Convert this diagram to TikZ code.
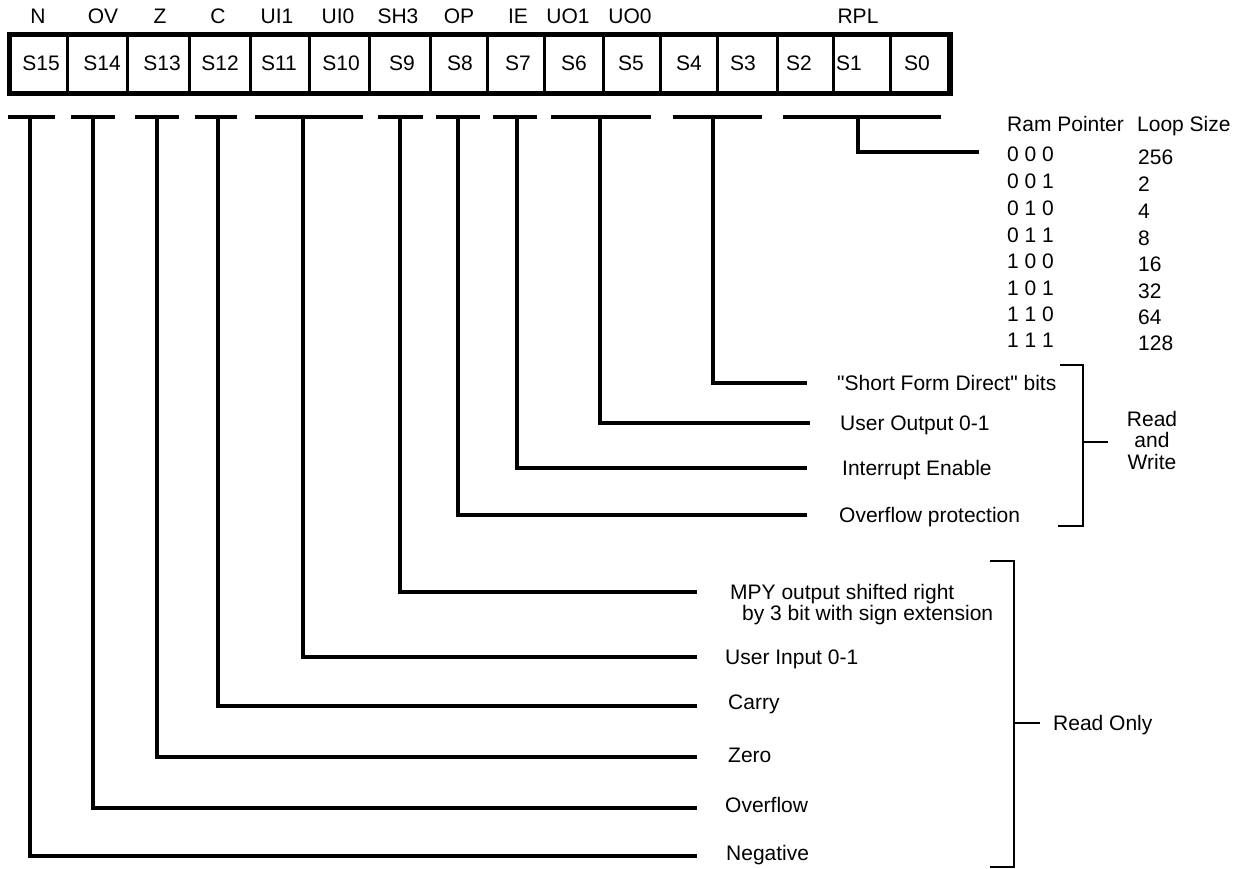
\documentclass[tikz,border=0pt]{standalone}
\usepackage{fontspec}
\setmainfont{Liberation Sans}[Ligatures=TeXOff]
\begin{document}
\begin{tikzpicture}[x=1pt,y=-1pt,
  txt/.style={inner sep=0pt,font=\fontsize{21}{21.5}\selectfont},
  lbl/.style={txt,anchor=base west},
  bar/.style={line width=4.5pt},
  lead/.style={line width=3.6pt},
  brk/.style={line width=1.8pt}]
\useasboundingbox (0,0) rectangle (1244,869);
% register
\draw[line width=3pt] \foreach \d in {67,127,189,250,309,369,430,487,544,603,660,717,777,833,890} {(\d,34) -- (\d,94)};
\draw[line width=5.5pt] (9.5,34.5) rectangle (950,93.5);
% cell texts
\foreach \c/\t [count=\i] in {41/S15,102/S14,162/S13,220/S12,279/S11,341/S10,402/S9,460/S8,518/S7,574/S6,631/S5,689/S4,743/S3,799/S2,849/S1,917/S0}
  \node[txt] (cell\i) at (\c,63) {\t};
% field names
\foreach \c/\t [count=\i] in {38/N,103/OV,160/Z,218/C,277/UI1,338/UI0,398/SH3,459/OP,518/IE,568/UO1,630/UO0,858/RPL}
  \node[txt] (fld\i) at (\c,16) {\t};
% bars under fields
\foreach \a/\b [count=\i] in {8/55,71/115,135/179,195/237,255/363,378/423,436/480,493/537,551/651,673/762,783/941}
  \draw[bar] (\a,117) -- (\b,117);
% stem coordinates
\foreach \x/\n in {30/N,93/OV,157/Z,218/C,303/UI,400/SH,458/OP,517/IE,600/UO,713/SF,858/RP}
  \coordinate (s\n) at (\x,117);
% labels
\node[lbl] (tRP) at (1007,132) {Ram Pointer};
\node[lbl] (tLS) at (1137,132) {Loop Size};
\foreach \y/\c/\s [count=\i] in {154.5/0 0 0/256,181/0 0 1/2,208/0 1 0/4,235/0 1 1/8,261/1 0 0/16,288/1 0 1/32,314/1 1 0/64,340/1 1 1/128}{
  \node[lbl] (code\i) at (1007,\y+7.5) {\c};
  \node[lbl] (size\i) at (1138,\y+10.5) {\s};
}
\node[lbl] (tSF) at (837,390.5) {"Short Form Direct" bits};
\node[lbl] (tUO) at (840,430.5) {User Output 0-1};
\node[lbl] (tIE) at (842,475.5) {Interrupt Enable};
\node[lbl] (tOP) at (839,522.5) {Overflow protection};
\node[lbl] (tSH) at (730,599.5) {MPY output shifted right};
\node[lbl] (tSH2) at (742,620.5) {by 3 bit with sign extension};
\node[lbl] (tUI) at (725,664.5) {User Input 0-1};
\node[lbl] (tC) at (728,709.5) {Carry};
\node[lbl] (tZ) at (728,762.5) {Zero};
\node[lbl] (tOV) at (725,812.5) {Overflow};
\node[lbl] (tN) at (726,860.5) {Negative};
\node[txt,align=center] (tRW) at (1152,440) {Read\\and\\Write};
\node[lbl] (tRO) at (1053,730.5) {Read Only};
% leader end coordinates
\coordinate (eRP) at (979,152);
\coordinate (eSF) at (807,383);
\coordinate (eUO) at (810,423);
\coordinate (eIE) at (807,468);
\coordinate (eOP) at (807,515);
\coordinate (eSH) at (697,592);
\coordinate (eUI) at (697,657);
\coordinate (eC) at (697,706);
\coordinate (eZ) at (697,757);
\coordinate (eOV) at (697,808);
\coordinate (eN) at (697,856);
\foreach \n in {RP,SF,UO,IE,OP,SH,UI,C,Z,OV,N}
  \draw[lead] (s\n) |- (e\n);
% brackets
\coordinate (rwT) at (1060,365); \coordinate (rwB) at (1058,526);
\coordinate (rwM) at (1108,442);
\draw[brk] (rwT) -- (1083,365) -- (1083,526) -- (rwB);
\draw[brk] (1083,442) -- (rwM);
\coordinate (roT) at (990,561); \coordinate (roB) at (990,867);
\coordinate (roM) at (1040,723);
\draw[brk] (roT) -- (1014,561) -- (1014,867) -- (roB);
\draw[brk] (1014,723) -- (roM);
\end{tikzpicture}
\end{document}
